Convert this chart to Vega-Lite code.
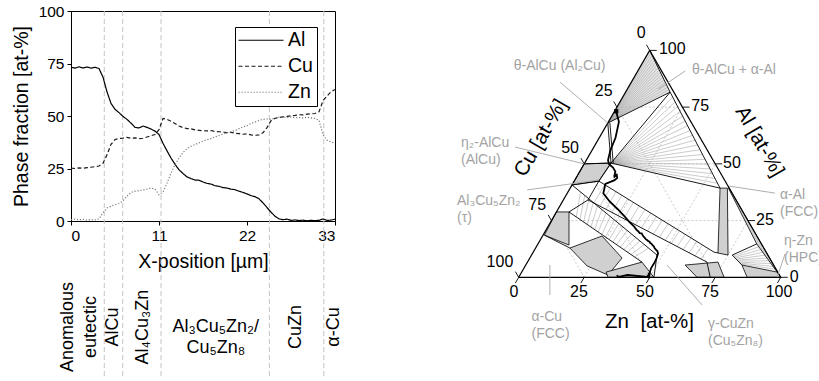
{
  "$schema": "https://vega.github.io/schema/vega-lite/v6.json",
  "padding": {"left": 10, "top": 3, "right": 0, "bottom": 0},
  "config": {
    "font": "Liberation Sans",
    "view": {"stroke": null},
    "concat": {"spacing": 112},
    "axis": {"labelFont": "Liberation Sans", "labelFontSize": 15.5, "labelColor": "#000", "titleFont": "Liberation Sans", "titleFontSize": 19.5, "titleFontWeight": "normal", "titleColor": "#000", "domainColor": "#000", "tickColor": "#000", "grid": false, "tickSize": 4, "labelPadding": 3}
  },
  "datasets": {
    "prof": [
      {"x":0,"Al":73.2,"Cu":25.2,"Zn":0.6},{"x":0.5,"Al":72.8,"Cu":25.0,"Zn":0.9},{"x":1,"Al":73.4,"Cu":25.3,"Zn":0.5},{"x":1.5,"Al":72.9,"Cu":25.1,"Zn":0.8},
      {"x":2,"Al":73.3,"Cu":25.4,"Zn":0.4},{"x":2.5,"Al":72.8,"Cu":25.6,"Zn":0.7},{"x":3,"Al":73.2,"Cu":25.9,"Zn":0.5},{"x":3.5,"Al":72.6,"Cu":26.2,"Zn":1.0},
      {"x":4,"Al":68.5,"Cu":27.5,"Zn":4.0},{"x":4.5,"Al":61.5,"Cu":31.5,"Zn":6.2},{"x":5,"Al":56.0,"Cu":36.5,"Zn":7.0},{"x":5.5,"Al":53.2,"Cu":38.8,"Zn":7.8},
      {"x":6,"Al":51.6,"Cu":39.3,"Zn":8.3},{"x":6.5,"Al":49.8,"Cu":39.5,"Zn":9.6},{"x":7,"Al":48.4,"Cu":39.8,"Zn":11.8},{"x":7.5,"Al":46.6,"Cu":39.4,"Zn":13.6},
      {"x":8,"Al":44.6,"Cu":39.6,"Zn":14.2},{"x":8.5,"Al":44.3,"Cu":39.2,"Zn":14.4},{"x":9,"Al":45.2,"Cu":39.4,"Zn":14.8},{"x":9.5,"Al":44.6,"Cu":40.0,"Zn":15.2},
      {"x":10,"Al":43.8,"Cu":40.6,"Zn":15.7},{"x":10.5,"Al":42.8,"Cu":41.2,"Zn":15.2},{"x":11,"Al":41.2,"Cu":43.5,"Zn":12.5},{"x":11.5,"Al":37.0,"Cu":48.8,"Zn":13.8},
      {"x":12,"Al":33.4,"Cu":48.4,"Zn":18.0},{"x":12.5,"Al":30.0,"Cu":47.5,"Zn":22.8},{"x":13,"Al":27.0,"Cu":46.4,"Zn":26.8},{"x":13.5,"Al":24.4,"Cu":45.2,"Zn":30.0},
      {"x":14,"Al":22.6,"Cu":44.5,"Zn":32.6},{"x":14.5,"Al":21.0,"Cu":44.0,"Zn":34.4},{"x":15,"Al":20.2,"Cu":43.9,"Zn":35.6},{"x":15.5,"Al":19.5,"Cu":43.4,"Zn":36.4},
      {"x":16,"Al":19.4,"Cu":43.2,"Zn":37.2},{"x":16.5,"Al":18.6,"Cu":43.0,"Zn":38.0},{"x":17,"Al":17.9,"Cu":42.9,"Zn":38.7},{"x":17.5,"Al":17.6,"Cu":43.1,"Zn":39.2},
      {"x":18,"Al":16.8,"Cu":42.6,"Zn":40.1},{"x":18.5,"Al":16.5,"Cu":42.5,"Zn":40.7},{"x":19,"Al":15.9,"Cu":42.4,"Zn":41.5},{"x":19.5,"Al":15.7,"Cu":42.0,"Zn":42.1},
      {"x":20,"Al":15.2,"Cu":42.2,"Zn":42.5},{"x":20.5,"Al":14.9,"Cu":41.8,"Zn":43.1},{"x":21,"Al":14.2,"Cu":41.6,"Zn":44.0},{"x":21.5,"Al":13.6,"Cu":41.3,"Zn":44.8},
      {"x":22,"Al":12.9,"Cu":41.5,"Zn":45.4},{"x":22.5,"Al":12.1,"Cu":41.0,"Zn":46.4},{"x":23,"Al":11.6,"Cu":40.8,"Zn":47.1},{"x":23.5,"Al":10.6,"Cu":41.0,"Zn":47.9},
      {"x":24,"Al":8.6,"Cu":42.0,"Zn":48.4},{"x":24.5,"Al":6.4,"Cu":44.5,"Zn":48.6},{"x":25,"Al":4.2,"Cu":47.8,"Zn":48.5},{"x":25.5,"Al":2.3,"Cu":48.9,"Zn":48.9},
      {"x":26,"Al":1.0,"Cu":49.3,"Zn":49.4},{"x":26.5,"Al":0.6,"Cu":49.6,"Zn":49.5},{"x":27,"Al":0.9,"Cu":49.8,"Zn":49.2},{"x":27.5,"Al":0.3,"Cu":50.1,"Zn":49.5},
      {"x":28,"Al":0.5,"Cu":50.3,"Zn":49.1},{"x":28.5,"Al":0.2,"Cu":50.6,"Zn":49.3},{"x":29,"Al":0.4,"Cu":50.5,"Zn":49.0},{"x":29.5,"Al":0.1,"Cu":50.9,"Zn":49.4},
      {"x":30,"Al":0.3,"Cu":51.0,"Zn":49.1},{"x":30.5,"Al":0.2,"Cu":51.2,"Zn":48.8},{"x":31,"Al":0.3,"Cu":52.0,"Zn":48.0},{"x":31.5,"Al":1.0,"Cu":57.3,"Zn":41.0},
      {"x":32,"Al":0.3,"Cu":59.5,"Zn":38.5},{"x":32.5,"Al":0.4,"Cu":61.5,"Zn":37.6},{"x":33,"Al":0.9,"Cu":62.6,"Zn":37.0}
    ],
    "seg": [
      {"kind":"grid","al":25,"zn":0,"al2":25,"zn2":75},{"kind":"grid","al":50,"zn":0,"al2":50,"zn2":50},{"kind":"grid","al":75,"zn":0,"al2":75,"zn2":25},
      {"kind":"grid","al":0,"zn":25,"al2":75,"zn2":25},{"kind":"grid","al":0,"zn":50,"al2":50,"zn2":50},{"kind":"grid","al":0,"zn":75,"al2":25,"zn2":75},
      {"kind":"grid","al":75,"zn":0,"al2":0,"zn2":75},{"kind":"grid","al":50,"zn":0,"al2":0,"zn2":50},{"kind":"grid","al":25,"zn":0,"al2":0,"zn2":25},
      {"kind":"edge","al":0,"zn":0,"al2":100,"zn2":0},{"kind":"edge","al":100,"zn":0,"al2":0,"zn2":100},{"kind":"edge","al":0,"zn":0,"al2":0,"zn2":100},
      {"kind":"tick","al":0,"zn":0,"al2":-2.5,"zn2":0},{"kind":"tick","al":0,"zn":25,"al2":-2.5,"zn2":25},{"kind":"tick","al":0,"zn":50,"al2":-2.5,"zn2":50},{"kind":"tick","al":0,"zn":75,"al2":-2.5,"zn2":75},{"kind":"tick","al":0,"zn":100,"al2":-2.5,"zn2":100},
      {"kind":"tick","al":0,"zn":0,"al2":2.5,"zn2":-2.5},{"kind":"tick","al":25,"zn":0,"al2":27.5,"zn2":-2.5},{"kind":"tick","al":50,"zn":0,"al2":52.5,"zn2":-2.5},{"kind":"tick","al":75,"zn":0,"al2":77.5,"zn2":-2.5},{"kind":"tick","al":100,"zn":0,"al2":102.5,"zn2":-2.5},
      {"kind":"tick","al":0,"zn":100,"al2":0,"zn2":102.7},{"kind":"tick","al":25,"zn":75,"al2":25,"zn2":77.7},{"kind":"tick","al":50,"zn":50,"al2":50,"zn2":52.7},{"kind":"tick","al":75,"zn":25,"al2":75,"zn2":27.7},{"kind":"tick","al":100,"zn":0,"al2":100,"zn2":2.7},
      {"kind":"tie","al":68,"zn":0,"al2":98.92,"zn2":1.0},{"kind":"tie","al":68,"zn":0,"al2":97.84,"zn2":2.0},{"kind":"tie","al":68,"zn":0,"al2":96.75,"zn2":3.0},{"kind":"tie","al":68,"zn":0,"al2":95.67,"zn2":4.0},
      {"kind":"tie","al":68,"zn":0,"al2":94.59,"zn2":5.0},{"kind":"tie","al":68,"zn":0,"al2":93.51,"zn2":6.0},{"kind":"tie","al":68,"zn":0,"al2":92.42,"zn2":7.0},{"kind":"tie","al":68,"zn":0,"al2":91.34,"zn2":8.0},
      {"kind":"tie","al":68,"zn":0,"al2":90.26,"zn2":9.0},{"kind":"tie","al":68,"zn":0,"al2":89.18,"zn2":10.0},{"kind":"tie","al":68,"zn":0,"al2":88.09,"zn2":11.0},{"kind":"tie","al":68,"zn":0,"al2":87.01,"zn2":12.0},
      {"kind":"tie","al":68,"zn":0,"al2":85.93,"zn2":13.0},{"kind":"tie","al":68,"zn":0,"al2":84.85,"zn2":14.0},{"kind":"tie","al":68,"zn":0,"al2":83.76,"zn2":15.0},{"kind":"tie","al":68,"zn":0,"al2":82.68,"zn2":16.0},
      {"kind":"tie","al":50.35,"zn":10.06,"al2":79.49,"zn2":19.01},{"kind":"tie","al":50.35,"zn":10.06,"al2":77.37,"zn2":21.02},{"kind":"tie","al":50.35,"zn":10.06,"al2":75.26,"zn2":23.03},{"kind":"tie","al":50.35,"zn":10.06,"al2":73.14,"zn2":25.04},
      {"kind":"tie","al":50.35,"zn":10.06,"al2":71.03,"zn2":27.05},{"kind":"tie","al":50.35,"zn":10.06,"al2":68.91,"zn2":29.06},{"kind":"tie","al":50.35,"zn":10.06,"al2":66.8,"zn2":31.07},{"kind":"tie","al":50.35,"zn":10.06,"al2":64.68,"zn2":33.08},
      {"kind":"tie","al":50.35,"zn":10.06,"al2":62.57,"zn2":35.09},{"kind":"tie","al":50.35,"zn":10.06,"al2":60.45,"zn2":37.1},{"kind":"tie","al":50.35,"zn":10.06,"al2":58.34,"zn2":39.11},{"kind":"tie","al":50.35,"zn":10.06,"al2":56.22,"zn2":41.12},
      {"kind":"tie","al":50.35,"zn":10.06,"al2":54.11,"zn2":43.13},{"kind":"tie","al":50.35,"zn":10.06,"al2":51.99,"zn2":45.14},{"kind":"tie","al":50.35,"zn":10.06,"al2":49.88,"zn2":47.15},{"kind":"tie","al":50.35,"zn":10.06,"al2":47.76,"zn2":49.16},
      {"kind":"tie","al":50.35,"zn":10.06,"al2":45.65,"zn2":51.17},{"kind":"tie","al":50.35,"zn":10.06,"al2":43.53,"zn2":53.18},{"kind":"tie","al":50.35,"zn":10.06,"al2":41.42,"zn2":55.19},
      {"kind":"tie","al":40.84,"zn":12.38,"al2":32.73,"zn2":12.36},{"kind":"tie","al":39.27,"zn":15.36,"al2":31.36,"zn2":15.31},{"kind":"tie","al":37.71,"zn":18.34,"al2":29.99,"zn2":18.27},{"kind":"tie","al":36.14,"zn":21.32,"al2":28.62,"zn2":21.22},
      {"kind":"tie","al":34.58,"zn":24.3,"al2":27.25,"zn2":24.18},{"kind":"tie","al":33.01,"zn":27.28,"al2":25.88,"zn2":27.13},{"kind":"tie","al":31.45,"zn":30.26,"al2":24.51,"zn2":30.09},{"kind":"tie","al":29.88,"zn":33.24,"al2":23.14,"zn2":33.04},
      {"kind":"tie","al":28.32,"zn":36.22,"al2":21.77,"zn2":36.0},{"kind":"tie","al":26.75,"zn":39.2,"al2":20.4,"zn2":38.95},{"kind":"tie","al":25.19,"zn":42.18,"al2":19.03,"zn2":41.91},{"kind":"tie","al":23.62,"zn":45.16,"al2":17.66,"zn2":44.86},
      {"kind":"tie","al":22.06,"zn":48.14,"al2":16.29,"zn2":47.82},{"kind":"tie","al":20.49,"zn":51.12,"al2":14.92,"zn2":50.77},{"kind":"tie","al":18.93,"zn":54.1,"al2":13.55,"zn2":53.73},{"kind":"tie","al":17.36,"zn":57.08,"al2":12.18,"zn2":56.68},
      {"kind":"tie","al":15.8,"zn":60.06,"al2":10.81,"zn2":59.64},{"kind":"tie","al":14.23,"zn":63.04,"al2":9.44,"zn2":62.59},{"kind":"tie","al":12.67,"zn":66.02,"al2":8.07,"zn2":65.55},
      {"kind":"tie","al":37.61,"zn":4.79,"al2":26.59,"zn2":8.69},{"kind":"tie","al":36.07,"zn":7.19,"al2":25.49,"zn2":10.64},{"kind":"tie","al":34.52,"zn":9.58,"al2":24.38,"zn2":12.58},{"kind":"tie","al":32.98,"zn":11.98,"al2":23.28,"zn2":14.53},
      {"kind":"tie","al":31.43,"zn":14.37,"al2":22.17,"zn2":16.47},{"kind":"tie","al":29.89,"zn":16.77,"al2":21.07,"zn2":18.42},{"kind":"tie","al":28.34,"zn":19.16,"al2":19.96,"zn2":20.36},{"kind":"tie","al":26.8,"zn":21.56,"al2":18.86,"zn2":22.31},
      {"kind":"tie","al":25.25,"zn":23.95,"al2":17.75,"zn2":24.25},{"kind":"tie","al":23.71,"zn":26.35,"al2":16.65,"zn2":26.2},{"kind":"tie","al":22.16,"zn":28.74,"al2":15.54,"zn2":28.14},{"kind":"tie","al":20.62,"zn":31.14,"al2":14.44,"zn2":30.09},
      {"kind":"tie","al":19.07,"zn":33.53,"al2":13.33,"zn2":32.03},{"kind":"tie","al":17.53,"zn":35.93,"al2":12.23,"zn2":33.98},{"kind":"tie","al":15.98,"zn":38.32,"al2":11.12,"zn2":35.92},{"kind":"tie","al":14.44,"zn":40.72,"al2":10.02,"zn2":37.87},
      {"kind":"tie","al":12.89,"zn":43.11,"al2":8.91,"zn2":39.81},
      {"kind":"tie","al":9.36,"zn":77.19,"al2":13.46,"zn2":84.9},{"kind":"tie","al":8.92,"zn":77.78,"al2":12.22,"zn2":86.3},{"kind":"tie","al":8.48,"zn":78.37,"al2":10.98,"zn2":87.7},{"kind":"tie","al":8.04,"zn":78.96,"al2":9.74,"zn2":89.1},
      {"kind":"tie","al":7.6,"zn":79.55,"al2":8.5,"zn2":90.5},{"kind":"tie","al":7.16,"zn":80.14,"al2":7.26,"zn2":91.9},{"kind":"tie","al":6.72,"zn":80.73,"al2":6.02,"zn2":93.3},{"kind":"tie","al":6.28,"zn":81.32,"al2":4.78,"zn2":94.7},
      {"kind":"tie","al":5.84,"zn":81.91,"al2":3.54,"zn2":96.1},
      {"kind":"bound","al":68,"zn":0,"al2":81.6,"zn2":17},{"kind":"bound","al":81.6,"zn":17,"al2":50.35,"zn2":10.06},{"kind":"bound","al":68,"zn":0,"al2":50.35,"zn2":10.06},
      {"kind":"bound","al":68,"zn":0.8,"al2":50.35,"zn2":10.9},{"kind":"bound","al":50.35,"zn":10.06,"al2":39.3,"zn2":57.2},{"kind":"bound","al":100,"zn":0,"al2":81.6,"zn2":17},
      {"kind":"bound","al":81.6,"zn":17,"al2":39.3,"zn2":57.2},{"kind":"bound","al":50,"zn":0,"al2":50.35,"zn2":10.06},{"kind":"bound","al":50.35,"zn":10.06,"al2":42.4,"zn2":9.4},
      {"kind":"bound","al":42.4,"zn":9.4,"al2":11.1,"zn2":69.0},{"kind":"bound","al":34.1,"zn":9.4,"al2":6.7,"zn2":68.5},{"kind":"bound","al":40.7,"zn":0,"al2":9.8,"zn2":47.9},
      {"kind":"bound","al":28.8,"zn":4.8,"al2":6.7,"zn2":43.7},{"kind":"bound","al":42.4,"zn":9.4,"al2":34.1,"zn2":9.4},{"kind":"bound","al":34.1,"zn":9.4,"al2":28.8,"zn2":4.8},
      {"kind":"bound","al":9.8,"zn":47.9,"al2":0,"zn2":51.6},{"kind":"bound","al":6.7,"zn":68.5,"al2":0,"zn2":73.1},{"kind":"bound","al":11.1,"zn":69.0,"al2":10.7,"zn2":70.7},
      {"kind":"bound","al":9.8,"zn":76.6,"al2":14.7,"zn2":83.5},{"kind":"bound","al":9.8,"zn":76.6,"al2":5.4,"zn2":82.5},{"kind":"bound","al":18.6,"zn":0.5,"al2":12.9,"zn2":13.1},
      {"kind":"bound","al":40.7,"zn":0,"al2":42.4,"zn2":9.4},
      {"kind":"leader","al":86.0,"zn":-27.2,"al2":68,"zn2":0},{"kind":"leader","al":90.9,"zn":18.1,"al2":82.9,"zn2":11.7},{"kind":"leader","al":57.4,"zn":-30.1,"al2":50,"zn2":0},
      {"kind":"leader","al":38.5,"zn":-16.0,"al2":42.9,"zn2":9.2},{"kind":"leader","al":37.1,"zn":79.3,"al2":40.2,"zn2":60.2},{"kind":"leader","al":10.3,"zn":96.5,"al2":0.1,"zn2":98.6},
      {"kind":"leader","al":5.4,"zn":9.2,"al2":-7.8,"zn2":15.8},{"kind":"leader","al":-12.2,"zn":76.1,"al2":5.4,"zn2":53.9}
    ],
    "poly": [
      {"id":"r1","k":1,"al":68,"zn":0},{"id":"r1","k":2,"al":100,"zn":0},{"id":"r1","k":3,"al":81.6,"zn":17},
      {"id":"g1","k":1,"al":50,"zn":0},{"id":"g1","k":2,"al":50.35,"zn":10.06},{"id":"g1","k":3,"al":42.4,"zn":9.4},{"id":"g1","k":4,"al":40.7,"zn":0},
      {"id":"g2","k":1,"al":28.8,"zn":0},{"id":"g2","k":2,"al":28.8,"zn":4.8},{"id":"g2","k":3,"al":14.2,"zn":12.1},{"id":"g2","k":4,"al":18.6,"zn":0.5},
      {"id":"g3","k":1,"al":12.9,"zn":13.1},{"id":"g3","k":2,"al":18.2,"zn":22.7},{"id":"g3","k":3,"al":8.5,"zn":35.2},{"id":"g3","k":4,"al":1.0,"zn":33.6},{"id":"g3","k":5,"al":5.0,"zn":23.6},
      {"id":"g4","k":1,"al":2.3,"zn":32.2},{"id":"g4","k":2,"al":6.7,"zn":43.7},{"id":"g4","k":3,"al":0,"zn":51.6},{"id":"g4","k":4,"al":0,"zn":34.1},
      {"id":"g5","k":1,"al":39.3,"zn":57.2},{"id":"g5","k":2,"al":39.3,"zn":60.0},{"id":"g5","k":3,"al":9.8,"zn":75.0},{"id":"g5","k":4,"al":10.7,"zn":70.7},
      {"id":"g6","k":1,"al":39.3,"zn":60.4},{"id":"g6","k":2,"al":14.7,"zn":83.5},{"id":"g6","k":3,"al":2.3,"zn":97.5},{"id":"g6","k":4,"al":0,"zn":100},{"id":"g6","k":5,"al":39.6,"zn":60.4},
      {"id":"g7","k":1,"al":5.4,"zn":82.5},{"id":"g7","k":2,"al":2.3,"zn":97.5},{"id":"g7","k":3,"al":0,"zn":100},{"id":"g7","k":4,"al":0,"zn":87.2},
      {"id":"g8","k":1,"al":5.4,"zn":60.8},{"id":"g8","k":2,"al":6.7,"zn":72.7},{"id":"g8","k":3,"al":0,"zn":78.4},{"id":"g8","k":4,"al":0,"zn":68.1}
    ],
    "txt": [
      {"kind":"tick","t":"0","al":-6.48,"zn":1.45},{"kind":"tick","t":"25","al":-6.48,"zn":26.26},{"kind":"tick","t":"50","al":-6.48,"zn":51.45},{"kind":"tick","t":"75","al":-6.48,"zn":76.26},{"kind":"tick","t":"100","al":-6.48,"zn":102.59},
      {"kind":"tick","t":"0","al":107.6,"zn":-7.0},{"kind":"tick","t":"25","al":82.1,"zn":-8.6},{"kind":"tick","t":"50","al":57.0,"zn":-8.9},{"kind":"tick","t":"75","al":31.9,"zn":-8.9},{"kind":"tick","t":"100","al":6.7,"zn":-10.5},
      {"kind":"tick","t":"100","al":100.6,"zn":8.3},{"kind":"tick","t":"75","al":75.5,"zn":31.5},{"kind":"tick","t":"50","al":50.4,"zn":56.2},{"kind":"tick","t":"25","al":25.2,"zn":81.4},{"kind":"tick","t":"0","al":0.1,"zn":105.1},
      {"kind":"phase","t":"θ-AlCu (Al₂Cu)","al":93.08,"zn":-48.45},{"kind":"phase","t":"θ-AlCu + α-Al","al":91.32,"zn":20.49},
      {"kind":"phase","t":"η₂-AlCu\n(AlCu)","al":59.38,"zn":-51.71},{"kind":"phase","t":"Al₃Cu₅Zn₂\n(τ)","al":33.61,"zn":-40.36},
      {"kind":"phase","t":"α-Al\n(FCC)","al":36.26,"zn":81.6},{"kind":"phase","t":"η-Zn\n(HPC)","al":16.21,"zn":93.16},
      {"kind":"phase","t":"α-Cu\n(FCC)","al":-17.71,"zn":13.74},{"kind":"phase","t":"γ-CuZn\n(Cu₅Zn₈)","al":-20.57,"zn":82.54},
      {"kind":"ztitle","t":"Zn\u00a0\u00a0[at-%]","al":-19.69,"zn":59.77},
      {"kind":"cutitle","t":"Cu [at-%]","al":61.37,"zn":-22.17},
      {"kind":"altitle","t":"Al [at-%]","al":59.82,"zn":62.0}
    ]
  },
  "hconcat": [
    {
      "width": 264,
      "height": 210,
      "view": {"stroke": "#000", "strokeWidth": 1},
      "encoding": {
        "x": {"field": "x", "type": "quantitative", "scale": {"domain": [0, 33], "nice": false, "zero": false},
              "axis": {"values": [0, 11, 22, 33], "title": "X-position [µm]", "titlePadding": 9}}
      },
      "layer": [
        {
          "data": {"values": [{"x": 4.16}, {"x": 6.46}, {"x": 11.25}, {"x": 24.8}, {"x": 31.6}]},
          "mark": {"type": "rule", "stroke": "#c4c4c4", "strokeDash": [5, 3], "strokeWidth": 1},
          "encoding": {
            "y": {"datum": 100, "type": "quantitative", "scale": {"domain": [0, 100], "nice": false},
                  "axis": {"values": [0, 25, 50, 75, 100], "title": "Phase fraction [at-%]", "titlePadding": 7}},
            "y2": {"datum": -74}
          }
        },
        {
          "data": {"name": "prof"},
          "transform": [{"fold": ["Al", "Cu", "Zn"], "as": ["element", "value"]}],
          "mark": {"type": "line", "strokeWidth": 1.2},
          "encoding": {
            "y": {"field": "value", "type": "quantitative", "scale": {"domain": [0, 100], "nice": false},
                  "axis": {"values": [0, 25, 50, 75, 100], "title": "Phase fraction [at-%]", "titlePadding": 7}},
            "color": {"field": "element", "type": "nominal",
                      "scale": {"domain": ["Al", "Cu", "Zn"], "range": ["#000000", "#1a1a1a", "#7a7a7a"]},
                      "legend": {"orient": "none", "legendX": 164, "legendY": 16, "title": null, "symbolType": "M-3,0H3", "symbolSize": 225, "symbolOffset": 12.75, "symbolStrokeWidth": 1.2, "labelFontSize": 19.5, "labelFont": "Liberation Sans", "labelColor": "#000", "labelOffset": 17.25, "strokeColor": "#000", "fillColor": "#fff", "padding": 3.5, "rowPadding": 5}},
            "strokeDash": {"field": "element", "type": "nominal",
                      "scale": {"domain": ["Al", "Cu", "Zn"], "range": [[1, 0], [4, 2.5], [1.2, 1.8]]},
                      "legend": {"orient": "none", "legendX": 164, "legendY": 16, "title": null, "symbolType": "M-3,0H3", "symbolSize": 225, "symbolOffset": 12.75, "symbolStrokeWidth": 1.2, "labelFontSize": 19.5, "labelFont": "Liberation Sans", "labelColor": "#000", "labelOffset": 17.25, "strokeColor": "#000", "fillColor": "#fff", "padding": 3.5, "rowPadding": 5}}
          }
        },
        {
          "data": {"values": [{"x": -0.4, "t": "Anomalous"}, {"x": 2.5, "t": "eutectic"}, {"x": 5.2, "t": "AlCu"}, {"x": 8.96, "t": "Al₄Cu₃Zn"}, {"x": 28.1, "t": "CuZn"}, {"x": 32.9, "t": "α-Cu"}]},
          "mark": {"type": "text", "angle": 270, "fontSize": 18, "align": "center", "baseline": "middle", "color": "#000"},
          "encoding": {
            "y": {"datum": -50.5, "type": "quantitative", "scale": {"domain": [0, 100], "nice": false},
                  "axis": {"values": [0, 25, 50, 75, 100], "title": "Phase fraction [at-%]", "titlePadding": 7}},
            "text": {"field": "t"}
          }
        },
        {
          "data": {"values": [{"x": 18.1, "t": "Al₃Cu₅Zn₂/\nCu₅Zn₈"}]},
          "mark": {"type": "text", "fontSize": 18, "lineBreak": "\n", "lineHeight": 21, "align": "center", "baseline": "middle", "color": "#000"},
          "encoding": {
            "y": {"datum": -50.5, "type": "quantitative", "scale": {"domain": [0, 100], "nice": false},
                  "axis": {"values": [0, 25, 50, 75, 100], "title": "Phase fraction [at-%]", "titlePadding": 7}},
            "text": {"field": "t"}
          }
        }
      ]
    },
    {
      "width": 364,
      "height": 370,
      "view": {"stroke": null},
      "encoding": {
        "x": {"field": "tx", "type": "quantitative", "scale": {"domain": [-23.55, 115.38], "nice": false, "zero": false}, "axis": null},
        "y": {"field": "ty", "type": "quantitative", "scale": {"domain": [-39.58, 101.64], "nice": false, "zero": false}, "axis": null}
      },
      "layer": [
        {
          "data": {"name": "poly"},
          "transform": [{"filter": "datum.id === 'r1'"}, {"calculate": "datum.zn + datum.al/2", "as": "tx"}, {"calculate": "datum.al*0.8660254", "as": "ty"}],
          "mark": {"type": "line", "interpolate": "linear-closed", "fill": "#e4e4e4", "stroke": null},
          "encoding": {"detail": {"field": "id"}, "order": {"field": "k"}}
        },
        {
          "data": {"name": "seg"},
          "transform": [{"filter": "datum.kind === 'grid'"}, {"calculate": "datum.zn + datum.al/2", "as": "tx"}, {"calculate": "datum.al*0.8660254", "as": "ty"}, {"calculate": "datum.zn2 + datum.al2/2", "as": "tx2"}, {"calculate": "datum.al2*0.8660254", "as": "ty2"}],
          "mark": {"type": "rule", "stroke": "#bdbdbd", "strokeDash": [2, 2], "strokeWidth": 0.8},
          "encoding": {"x2": {"field": "tx2"}, "y2": {"field": "ty2"}}
        },
        {
          "data": {"name": "seg"},
          "transform": [{"filter": "datum.kind === 'tie'"}, {"calculate": "datum.zn + datum.al/2", "as": "tx"}, {"calculate": "datum.al*0.8660254", "as": "ty"}, {"calculate": "datum.zn2 + datum.al2/2", "as": "tx2"}, {"calculate": "datum.al2*0.8660254", "as": "ty2"}],
          "mark": {"type": "rule", "stroke": "#a8a8a8", "strokeWidth": 0.6},
          "encoding": {"x2": {"field": "tx2"}, "y2": {"field": "ty2"}}
        },
        {
          "data": {"name": "poly"},
          "transform": [{"filter": "datum.id !== 'r1'"}, {"calculate": "datum.zn + datum.al/2", "as": "tx"}, {"calculate": "datum.al*0.8660254", "as": "ty"}],
          "mark": {"type": "line", "interpolate": "linear-closed", "fill": "#d0d0d0", "stroke": "#000", "strokeWidth": 0.8},
          "encoding": {"detail": {"field": "id"}, "order": {"field": "k"}}
        },
        {
          "data": {"name": "seg"},
          "transform": [{"filter": "datum.kind === 'bound' || datum.kind === 'tick'"}, {"calculate": "datum.zn + datum.al/2", "as": "tx"}, {"calculate": "datum.al*0.8660254", "as": "ty"}, {"calculate": "datum.zn2 + datum.al2/2", "as": "tx2"}, {"calculate": "datum.al2*0.8660254", "as": "ty2"}],
          "mark": {"type": "rule", "stroke": "#000", "strokeWidth": 0.9},
          "encoding": {"x2": {"field": "tx2"}, "y2": {"field": "ty2"}}
        },
        {
          "data": {"name": "seg"},
          "transform": [{"filter": "datum.kind === 'edge'"}, {"calculate": "datum.zn + datum.al/2", "as": "tx"}, {"calculate": "datum.al*0.8660254", "as": "ty"}, {"calculate": "datum.zn2 + datum.al2/2", "as": "tx2"}, {"calculate": "datum.al2*0.8660254", "as": "ty2"}],
          "mark": {"type": "rule", "stroke": "#000", "strokeWidth": 1.2},
          "encoding": {"x2": {"field": "tx2"}, "y2": {"field": "ty2"}}
        },
        {
          "data": {"name": "seg"},
          "transform": [{"filter": "datum.kind === 'leader'"}, {"calculate": "datum.zn + datum.al/2", "as": "tx"}, {"calculate": "datum.al*0.8660254", "as": "ty"}, {"calculate": "datum.zn2 + datum.al2/2", "as": "tx2"}, {"calculate": "datum.al2*0.8660254", "as": "ty2"}],
          "mark": {"type": "rule", "stroke": "#a6a6a6", "strokeWidth": 0.9},
          "encoding": {"x2": {"field": "tx2"}, "y2": {"field": "ty2"}}
        },
        {
          "data": {"name": "prof"},
          "transform": [{"calculate": "datum.Zn + datum.Al/2", "as": "tx"}, {"calculate": "datum.Al*0.8660254", "as": "ty"}],
          "mark": {"type": "line", "stroke": "#000", "strokeWidth": 1.8},
          "encoding": {"order": {"field": "x"}}
        },
        {
          "data": {"name": "prof"},
          "transform": [{"filter": "datum.x === 0"}, {"calculate": "datum.Zn + datum.Al/2", "as": "tx"}, {"calculate": "datum.Al*0.8660254", "as": "ty"}],
          "mark": {"type": "square", "size": 18, "color": "#000", "opacity": 1}
        },
        {
          "data": {"name": "txt"},
          "transform": [{"filter": "datum.kind === 'tick'"}, {"calculate": "datum.zn + datum.al/2", "as": "tx"}, {"calculate": "datum.al*0.8660254", "as": "ty"}],
          "mark": {"type": "text", "fontSize": 16, "align": "center", "baseline": "middle", "color": "#000"},
          "encoding": {"text": {"field": "t"}}
        },
        {
          "data": {"name": "txt"},
          "transform": [{"filter": "datum.kind === 'phase'"}, {"calculate": "datum.zn + datum.al/2", "as": "tx"}, {"calculate": "datum.al*0.8660254", "as": "ty"}],
          "mark": {"type": "text", "fontSize": 14, "align": "left", "baseline": "middle", "lineBreak": "\n", "lineHeight": 17, "color": "#a3a3a3"},
          "encoding": {"text": {"field": "t"}}
        },
        {
          "data": {"name": "txt"},
          "transform": [{"filter": "datum.kind === 'ztitle'"}, {"calculate": "datum.zn + datum.al/2", "as": "tx"}, {"calculate": "datum.al*0.8660254", "as": "ty"}],
          "mark": {"type": "text", "fontSize": 20.5, "align": "center", "baseline": "middle", "color": "#000"},
          "encoding": {"text": {"field": "t"}}
        },
        {
          "data": {"name": "txt"},
          "transform": [{"filter": "datum.kind === 'cutitle'"}, {"calculate": "datum.zn + datum.al/2", "as": "tx"}, {"calculate": "datum.al*0.8660254", "as": "ty"}],
          "mark": {"type": "text", "fontSize": 20.5, "angle": 300, "align": "center", "baseline": "middle", "color": "#000"},
          "encoding": {"text": {"field": "t"}}
        },
        {
          "data": {"name": "txt"},
          "transform": [{"filter": "datum.kind === 'altitle'"}, {"calculate": "datum.zn + datum.al/2", "as": "tx"}, {"calculate": "datum.al*0.8660254", "as": "ty"}],
          "mark": {"type": "text", "fontSize": 20.5, "angle": 60, "align": "center", "baseline": "middle", "color": "#000"},
          "encoding": {"text": {"field": "t"}}
        }
      ]
    }
  ]
}
